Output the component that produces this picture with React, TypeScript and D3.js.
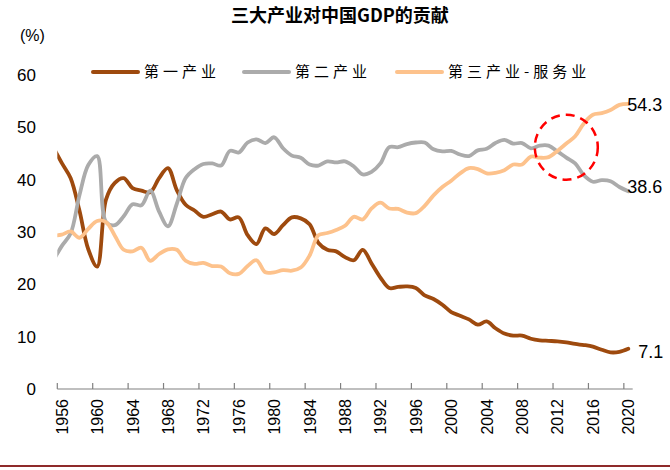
import React from 'react';
import * as d3 from 'd3';

// 1955 is only there so the lines run in from the left edge; the axis starts at 1956
const years = d3.range(1955, 2021);
const primary = [
   46.3, 43.2, 40.3, 34.1, 26.7, 23.4, 36.2, 39.4, 40.3, 38.4, 37.9, 37.6, 40.3, 42.2, 38.0, 35.2,
   34.1, 32.9, 33.4, 33.9, 32.4, 32.8, 29.4, 27.7, 30.7, 29.6, 31.3, 32.8, 32.6, 31.5, 27.9, 26.6,
   26.3, 25.2, 24.6, 26.6, 24.0, 21.3, 19.3, 19.5, 19.6, 19.3, 17.9, 17.2, 16.1, 14.7, 14.0, 13.3,
   12.3, 12.9, 11.6, 10.6, 10.2, 10.2, 9.6, 9.3, 9.2, 9.1, 8.9, 8.6, 8.4, 8.1, 7.5, 7.0, 7.1, 7.7,
];
const secondary = [
   24.4, 27.3, 29.7, 37.0, 42.8, 44.5, 31.9, 31.3, 33.0, 35.3, 35.1, 37.9, 33.9, 31.1, 35.4, 40.3,
   42.0, 43.0, 43.1, 42.7, 45.5, 45.2, 47.1, 47.7, 47.0, 48.1, 46.0, 44.6, 44.2, 42.9, 42.7, 43.5,
   43.3, 43.5, 42.5, 41.0, 41.5, 43.1, 46.2, 46.2, 46.8, 47.1, 47.1, 45.8, 45.4, 45.5, 44.8, 44.5,
   45.6, 45.9, 47.0, 47.6, 46.9, 47.0, 46.0, 46.5, 46.5, 45.4, 44.2, 43.1, 40.8, 39.6, 39.9, 39.7, 38.6, 37.8,
];
const tertiary = [
   29.3, 29.5, 30.1, 28.9, 30.6, 32.1, 31.9, 29.3, 26.6, 26.3, 27.0, 24.5, 25.8, 26.7, 26.6, 24.5,
   23.9, 24.1, 23.5, 23.4, 22.1, 22.0, 23.5, 24.6, 22.3, 22.3, 22.7, 22.6, 23.2, 25.5, 29.4, 29.8,
   30.4, 31.2, 32.9, 32.4, 34.5, 35.6, 34.5, 34.4, 33.7, 33.6, 35.0, 37.0, 38.6, 39.8, 41.2, 42.2,
   42.0, 41.2, 41.3, 41.8, 42.9, 42.9, 44.4, 44.2, 44.3, 45.5, 46.9, 48.3, 50.8, 52.4, 52.7, 53.3, 54.3, 54.5,
];
const seriesNames = ['第一产业', '第二产业', '第三产业-服务业'];
const seriesColors = ['#9E4A0E', '#ABABAB', '#FDC28C'];
const endLabels = ['7.1', '38.6', '54.3'];
const endLabelYears = [2019, 2019, 2019];
const yTicks = [0, 10, 20, 30, 40, 50, 60];
const xTickYears = d3.range(1956, 2021, 4);
const highlight = { year: 2013, value: 46.2 };

const W = 670;
const H = 470;
const left = 57.3;
const right = 632.7;
const bottom = 389;
const top = 75;

const App: React.FC = () => {
   // years are categories: each year sits in the middle of its slot
   const x = d3.scaleLinear().domain([1955.5, 2020.5]).range([left, right]);
   const y = d3.scaleLinear().domain([0, 60]).range([bottom, top]);

   const line = d3
      .line<number>()
      .x((_, i) => x(years[i]))
      .y(d => y(d))
      .curve(d3.curveCatmullRom);

   const series = [primary, secondary, tertiary];
   const font = 'Arial, "Liberation Sans", sans-serif';
   const cjk = '"Noto Sans CJK SC", sans-serif';

   const legendX = [93, 244, 397];

   return (
      <svg
         width={W}
         height={H}
         viewBox={`0 0 ${W} ${H}`}
         style={{ position: 'absolute', left: 0, top: 0, background: '#fff' }}
      >
         <defs>
            <clipPath id="plot-clip">
               <rect x={left} y={0} width={W - left} height={H} />
            </clipPath>
         </defs>

         <text x={W / 2 + 5} y={22} textAnchor="middle" fontFamily={cjk} fontWeight="bold" fontSize={18} fill="#000">
            三大产业对中国GDP的贡献
         </text>
         <text x={20} y={41} fontFamily={font} fontSize={16} fill="#000">(%)</text>

         {/* y labels */}
         {yTicks.map(t => (
            <text key={t} x={36} y={y(t)} dy="0.35em" textAnchor="end" fontFamily={font} fontSize={17} fill="#000">
               {t}
            </text>
         ))}

         {/* x axis */}
         <line x1={left} x2={right} y1={bottom} y2={bottom} stroke="#808080" strokeWidth={1.2} />
         {xTickYears.map(yr => (
            <g key={yr}>
               <line x1={x(yr - 0.5)} x2={x(yr - 0.5)} y1={bottom} y2={bottom - 6} stroke="#808080" strokeWidth={1.2} />
               <text
                  transform={`translate(${x(yr) + 6},${bottom + 10}) rotate(-90)`}
                  textAnchor="end"
                  fontFamily={font}
                  fontSize={16}
                  fill="#000"
               >
                  {yr}
               </text>
            </g>
         ))}

         {/* lines */}
         <g clipPath="url(#plot-clip)">
            {series.map((s, i) => (
               <path
                  key={i}
                  d={line(s) || ''}
                  fill="none"
                  stroke={seriesColors[i]}
                  strokeWidth={3.8}
                  strokeLinejoin="round"
                  strokeLinecap="round"
               />
            ))}
         </g>

         {/* end labels */}
         {series.map((s, i) => (
            <text
               key={i}
               x={x(2020) + (i === 0 ? 10 : -1)}
               y={y(s[years.indexOf(endLabelYears[i])])}
               dy="0.35em"
               fontFamily={font}
               fontSize={18}
               fill="#000"
            >
               {endLabels[i]}
            </text>
         ))}

         {/* highlight circle */}
         <ellipse
            cx={x(highlight.year)}
            cy={y(highlight.value)}
            rx={31.5}
            ry={32.5}
            fill="none"
            stroke="#FF0000"
            strokeWidth={2.5}
            strokeDasharray="9 6"
         />

         {/* legend */}
         {seriesNames.map((name, i) => (
            <g key={name}>
               <line
                  x1={legendX[i]}
                  x2={legendX[i] + 45}
                  y1={72}
                  y2={72}
                  stroke={seriesColors[i]}
                  strokeWidth={4}
                  strokeLinecap="round"
               />
               <text x={legendX[i] + 51} y={72} dy="0.36em" fontFamily={cjk} fontSize={15} letterSpacing={4} fill="#000">
                  {name}
               </text>
            </g>
         ))}

         {/* bottom rule */}
         <line x1={0} x2={W} y1={466} y2={466} stroke="#8E2A2A" strokeWidth={2} />
      </svg>
   );
};

export default App;
